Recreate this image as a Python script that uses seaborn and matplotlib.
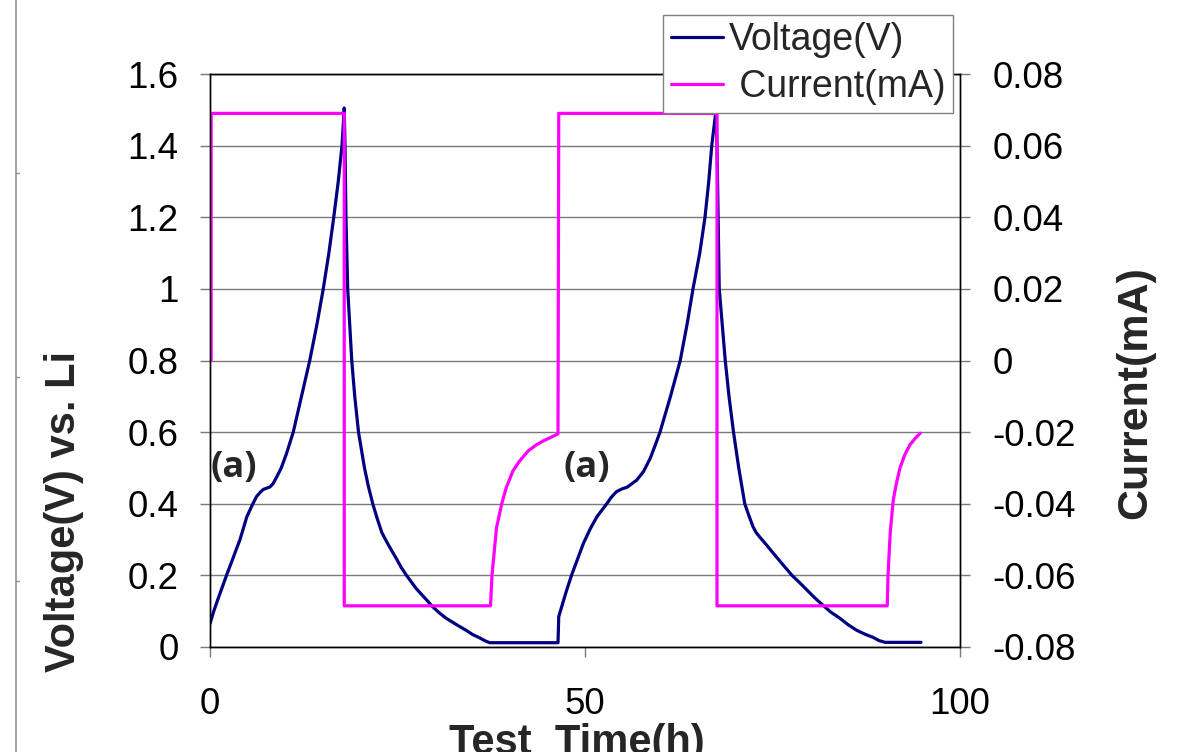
import numpy as np
import pandas as pd
import matplotlib
matplotlib.use("Agg")
import matplotlib.pyplot as plt
import seaborn as sns
from matplotlib.lines import Line2D

# ---------------- data ----------------
volt_time = [0.0, 0.5, 1.0, 2.2, 3.1, 4.0, 4.9, 5.6, 6.2, 6.7, 7.1, 7.5, 8.0, 8.4, 8.9, 9.5, 10.2, 11.1, 12.2, 13.3, 14.25,
             15.1, 15.85, 16.5, 17.1, 17.6, 17.9,
             18.0, 18.13, 18.36, 18.9, 19.3, 19.8, 20.6, 21.1, 21.7, 22.2, 22.9, 23.5, 24.2, 24.9, 25.5, 26.2, 27.5, 28.9,
             29.7, 30.6, 31.5, 33.3, 34.2, 35.0, 36.0, 36.7, 37.3,
             46.4, 46.5, 46.9, 47.5, 48.2, 49.8, 50.7, 51.6, 52.9, 53.5, 54.2, 55.0, 55.6, 56.9, 57.8, 58.7, 59.3, 60.0,
             61.4, 62.7, 63.6, 64.4, 65.3, 66.0, 66.5, 66.9, 67.5,
             67.6, 67.75, 67.9, 68.7, 69.2, 69.8, 70.5, 71.3, 71.8, 72.4, 72.8, 73.3, 74.2, 75.1, 76.3, 77.6, 78.6, 79.6,
             80.6, 81.7, 82.8, 84.0, 85.1, 86.2, 87.3, 88.4, 89.2, 90.0, 94.8]
volt_value = [0.065, 0.1, 0.13, 0.2, 0.25, 0.3, 0.363, 0.395, 0.42, 0.432, 0.44, 0.443, 0.447, 0.456, 0.475, 0.5, 0.54, 0.6,
              0.7, 0.8, 0.9, 1.0, 1.1, 1.2, 1.3, 1.4, 1.505,
              1.4, 1.2, 1.0, 0.8, 0.7, 0.6, 0.5, 0.45, 0.4, 0.365, 0.32, 0.296, 0.27, 0.245, 0.222, 0.2, 0.163, 0.131,
              0.112, 0.095, 0.08, 0.057, 0.046, 0.035, 0.025, 0.017, 0.012,
              0.012, 0.085, 0.113, 0.155, 0.2, 0.29, 0.33, 0.364, 0.4, 0.418, 0.434, 0.442, 0.446, 0.466, 0.49, 0.527, 0.56, 0.6,
              0.7, 0.8, 0.9, 1.0, 1.1, 1.2, 1.3, 1.4, 1.505,
              1.4, 1.2, 1.0, 0.8, 0.7, 0.6, 0.5, 0.4, 0.37, 0.336, 0.32, 0.307, 0.285, 0.262, 0.232, 0.2, 0.18, 0.159,
              0.138, 0.117, 0.097, 0.08, 0.062, 0.047, 0.036, 0.027, 0.018, 0.013, 0.013]

curr_time = [0.15, 0.15, 17.9, 17.9, 37.4, 37.6, 38.2, 38.9, 39.5, 40.4, 41.3, 42.4, 43.4, 44.4, 45.4, 46.4,
             46.5, 67.6, 67.6, 90.3, 90.4, 90.7, 91.1, 91.5, 92.0, 92.6, 93.3, 94.0, 94.7]
curr_value = [0.0, 0.069, 0.069, -0.0685, -0.0685, -0.060, -0.0467, -0.040, -0.0355, -0.0308, -0.028, -0.0253, -0.0237,
              -0.0225, -0.0215, -0.0205,
              0.069, 0.069, -0.0685, -0.0685, -0.060, -0.048, -0.039, -0.0345, -0.030, -0.0265, -0.0236, -0.0218, -0.0203]

x_ticks = [0, 50, 100]
x_tick_labels = ["0", "50", "100"]
left_ticks = [0, 0.2, 0.4, 0.6, 0.8, 1.0, 1.2, 1.4, 1.6]
left_tick_labels = ["0", "0.2", "0.4", "0.6", "0.8", "1", "1.2", "1.4", "1.6"]
right_ticks = [-0.08, -0.06, -0.04, -0.02, 0, 0.02, 0.04, 0.06, 0.08]
right_tick_labels = ["-0.08", "-0.06", "-0.04", "-0.02", "0", "0.02", "0.04", "0.06", "0.08"]
series_names = ["Voltage(V)", " Current(mA)"]
annot_text = "(a)"
annot_pos = [(3.2, 0.5), (50.2, 0.5)]

# ---------------- style ----------------
sns.set_style("white")
plt.rcParams["font.family"] = ["Liberation Sans", "DejaVu Sans"]
plt.rcParams["axes.unicode_minus"] = False

W, H = 1184, 752
fig = plt.figure(figsize=(W / 100, H / 100), dpi=100)
ax = fig.add_axes([210 / W, 1 - 647 / H, 750 / W, 573 / H])
ax2 = ax.twinx()

volt_df = pd.DataFrame({"t": volt_time, "v": volt_value})
curr_df = pd.DataFrame({"t": curr_time, "i": curr_value})

sns.lineplot(data=volt_df, x="t", y="v", ax=ax, color="#000080", lw=2.3,
             sort=False, estimator=None, legend=False)
sns.lineplot(data=curr_df, x="t", y="i", ax=ax2, color="#ff00ff", lw=2.3,
             sort=False, estimator=None, legend=False)

ax.set_xlim(0, 100)
ax.set_ylim(0, 1.6)
ax2.set_ylim(-0.08, 0.08)
ax.set_xticks(x_ticks, x_tick_labels)
ax.set_yticks(left_ticks, left_tick_labels)
ax2.set_yticks(right_ticks, right_tick_labels)

ax.grid(axis="y", color="#7a7a7a", lw=1.0)
ax.grid(axis="x", visible=False)
ax2.grid(False)

tick_col = "#7a7a7a"
ax.tick_params(axis="y", direction="out", length=7.5, width=1.0, color=tick_col,
               pad=15, labelsize=26.5, labelcolor="black", left=True)
ax.tick_params(axis="x", direction="out", length=7.5, width=1.0, color=tick_col,
               pad=21, labelsize=26.5, labelcolor="black", bottom=True)
ax2.tick_params(axis="y", direction="out", length=7.5, width=1.0, color=tick_col,
                pad=16, labelsize=26.5, labelcolor="black", right=True)

for a in (ax, ax2):
    for s in a.spines.values():
        s.set_color("black")
        s.set_linewidth(1.0)
        s.set_visible(True)

ax.set_xlabel("Test  Time(h)", fontsize=30, fontweight="bold")
ax.xaxis.label.set_va("baseline")
ax.xaxis.set_label_coords((576.5 - 210) / 750, (647 - 754) / 573)

ax.set_ylabel("Voltage(V) vs. Li", fontsize=30, fontweight="bold")
ax.yaxis.label.set_va("baseline")
ax.yaxis.set_label_coords((75 - 210) / 750, (647 - 511) / 573)

ax2.set_ylabel("Current(mA)", fontsize=31, fontweight="bold")
ax2.yaxis.label.set_va("baseline")
ax2.yaxis.set_label_coords((1146 - 210) / 750, (647 - 393) / 573)

for (tx, ty) in annot_pos:
    ax.text(tx, ty, annot_text, fontsize=26, fontweight="bold",
            family=["Open Sans", "DejaVu Sans"], ha="center", va="center")

handles = [ax.get_lines()[0], ax2.get_lines()[0]]
handles = [Line2D([], [], color=h.get_color(), lw=2.3) for h in handles]
fig.legend(handles, series_names, loc="upper left",
           bbox_to_anchor=(663 / W, 1 - 15 / H), frameon=True, fancybox=False,
           edgecolor="#808080", framealpha=1, fontsize=27, handlelength=1.4,
           handletextpad=0.15, borderpad=0.2, labelspacing=0.28, borderaxespad=0)

# faint slide frame on the left edge
fig.add_artist(Line2D([16 / W, 16 / W], [0, 1], transform=fig.transFigure,
                      color="#909090", lw=1.2))
for yy in [173, 377, 581]:
    fig.add_artist(Line2D([16 / W, 19 / W], [1 - yy / H] * 2, transform=fig.transFigure,
                          color="#909090", lw=1.0))

fig.savefig("out.png", dpi=100)
